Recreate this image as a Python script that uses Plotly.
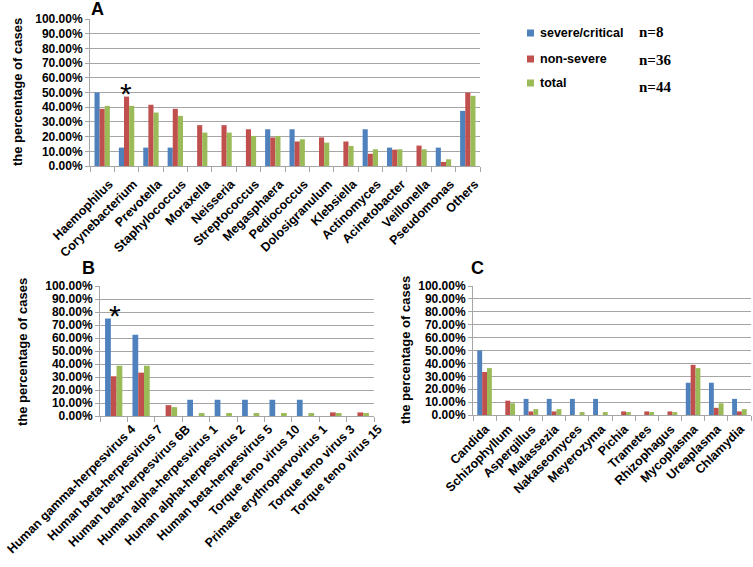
import plotly.graph_objects as go

W, H = 753, 567

# ---------- data ----------
series_names = ["severe/critical", "non-severe", "total"]
series_n = ["n=8", "n=36", "n=44"]
colors = ["#4F81BD", "#C0504D", "#9BBB59"]

cats_a = ["Haemophilus", "Corynebacterium", "Prevotella", "Staphylococcus", "Moraxella",
          "Neisseria", "Streptococcus", "Megasphaera", "Pediococcus", "Dolosigranulum",
          "Klebsiella", "Actinomyces", "Acinetobacter", "Veillonella", "Pseudomonas", "Others"]
severe_a = [50.0, 12.5, 12.5, 12.5, 0, 0, 0, 25.0, 25.0, 0, 0, 25.0, 12.5, 0, 12.5, 37.5]
nonsev_a = [38.89, 47.22, 41.67, 38.89, 27.78, 27.78, 25.0, 19.44, 16.67, 19.44, 16.67, 8.33, 11.11, 13.89, 2.78, 50.0]
total_a = [40.91, 40.91, 36.36, 34.09, 22.73, 22.73, 20.45, 20.45, 18.18, 15.91, 13.64, 11.36, 11.36, 11.36, 4.55, 47.73]

cats_b = ["Human gamma-herpesvirus 4", "Human beta-herpesvirus 7", "Human beta-herpesvirus 6B",
          "Human alpha-herpesvirus 1", "Human alpha-herpesvirus 2", "Human beta-herpesvirus 5",
          "Torque teno virus 10", "Primate erythroparvovirus 1", "Torque teno virus 3",
          "Torque teno virus 15"]
severe_b = [75.0, 62.5, 0, 12.5, 12.5, 12.5, 12.5, 12.5, 0, 0]
nonsev_b = [30.56, 33.33, 8.33, 0, 0, 0, 0, 0, 2.78, 2.78]
total_b = [38.64, 38.64, 6.82, 2.27, 2.27, 2.27, 2.27, 2.27, 2.27, 2.27]

cats_c = ["Candida", "Schizophyllum", "Aspergillus", "Malassezia", "Nakaseomyces", "Meyerozyma",
          "Pichia", "Trametes", "Rhizophagus", "Mycoplasma", "Ureaplasma", "Chlamydia"]
severe_c = [50.0, 0, 12.5, 12.5, 12.5, 12.5, 0, 0, 0, 25.0, 25.0, 12.5]
nonsev_c = [33.33, 11.11, 2.78, 2.78, 0, 0, 2.78, 2.78, 2.78, 38.89, 5.56, 2.78]
total_c = [36.36, 9.09, 4.55, 4.55, 2.27, 2.27, 2.27, 2.27, 2.27, 36.36, 9.09, 4.55]

ytick_vals = [0, 10, 20, 30, 40, 50, 60, 70, 80, 90, 100]
ytick_text = ["0.00%", "10.00%", "20.00%", "30.00%", "40.00%", "50.00%",
              "60.00%", "70.00%", "80.00%", "90.00%", "100.00%"]
ytitle = "the percentage of cases"

# ---------- helpers ----------
def px_x(v):
    return v / W

def px_y(v):
    return 1 - v / H

FONT = "Liberation Sans, Arial, sans-serif"
GRID = "#A6A6A6"

fig = go.Figure()

panels = [
    ("x", "y", cats_a, [severe_a, nonsev_a, total_a]),
    ("x2", "y2", cats_b, [severe_b, nonsev_b, total_b]),
    ("x3", "y3", cats_c, [severe_c, nonsev_c, total_c]),
]
for xa, ya, cats, vals in panels:
    for name, col, v in zip(series_names, colors, vals):
        fig.add_trace(go.Bar(x=cats, y=v, name=name, marker=dict(color=col, line=dict(width=0)),
                             xaxis=xa, yaxis=ya, showlegend=False))

def xaxis(domain, anchor, shift, standoff):
    return dict(domain=domain, anchor=anchor, type="category", automargin=False,
                showline=True, linecolor=GRID,
                linewidth=1, ticks="outside", tickson="boundaries", ticklen=5, tickcolor=GRID,
                tickangle=-45, showgrid=False, ticklabelshift=shift,
                ticklabelstandoff=standoff,
                tickfont=dict(family=FONT, size=12.5, color="black", weight="bold"))

def yaxis(domain, anchor):
    return dict(domain=domain, anchor=anchor, range=[0, 100], tickmode="array",
                tickvals=ytick_vals, ticktext=ytick_text, automargin=False,
                showline=True, linecolor=GRID, linewidth=1,
                ticks="outside", ticklen=4, tickcolor=GRID, showgrid=True, gridcolor=GRID,
                gridwidth=1, zeroline=False,
                tickfont=dict(family=FONT, size=12, color="black", weight="bold"))

layout = dict(
    template="none",
    width=W, height=H, margin=dict(l=0, r=0, t=0, b=0, pad=0),
    paper_bgcolor="white", plot_bgcolor="white",
    barmode="group", bargap=0.37, bargroupgap=0,
    xaxis=xaxis([px_x(90), px_x(480)], "y", 7, 5),
    yaxis=yaxis([px_y(166), px_y(19)], "x"),
    xaxis2=xaxis([px_x(100), px_x(374)], "y2", 18, 0),
    yaxis2=yaxis([px_y(416), px_y(286)], "x2"),
    xaxis3=xaxis([px_x(473), px_x(751)], "y3", 1, 1),
    yaxis3=yaxis([px_y(415), px_y(286)], "x3"),
)
fig.update_layout(**layout)

ann = []
# panel letters
for letter, x, y in [("A", 97, 9), ("B", 88, 268), ("C", 477, 268)]:
    ann.append(dict(text=letter, x=px_x(x), y=px_y(y), xref="paper", yref="paper",
                    showarrow=False, xanchor="center", yanchor="middle",
                    font=dict(family=FONT, size=18, color="black", weight="bold")))
# y titles
for x, yc in [(17, 92), (22, 352), (405, 350)]:
    ann.append(dict(text=ytitle, x=px_x(x), y=px_y(yc), xref="paper", yref="paper",
                    showarrow=False, textangle=-90, xanchor="center", yanchor="middle",
                    font=dict(family=FONT, size=13, color="black", weight="bold")))
# asterisks
ann.append(dict(text="*", x=cats_a[1], y=50, xref="x", yref="y", showarrow=False,
                xanchor="center", yanchor="bottom", xshift=-1, yshift=-19,
                font=dict(family=FONT, size=30, color="black")))
ann.append(dict(text="*", x=cats_b[0], y=78, xref="x2", yref="y2", showarrow=False,
                xanchor="center", yanchor="bottom", xshift=1, yshift=-19,
                font=dict(family=FONT, size=30, color="black")))

# legend
shapes = []
legend_rows = [33, 59, 83]
n_rows = [32, 60, 87]
for name, col, n, yr, yn in zip(series_names, colors, series_n, legend_rows, n_rows):
    shapes.append(dict(type="rect", xref="paper", yref="paper",
                       x0=px_x(527), x1=px_x(534), y0=px_y(yr + 3.5), y1=px_y(yr - 3.5),
                       fillcolor=col, line=dict(width=0)))
    ann.append(dict(text=name, x=px_x(538), y=px_y(yr), xref="paper", yref="paper",
                    showarrow=False, xanchor="left", yanchor="middle",
                    font=dict(family=FONT, size=12.5, color="black", weight="bold")))
    ann.append(dict(text=n, x=px_x(637), y=px_y(yn), xref="paper", yref="paper",
                    showarrow=False, xanchor="left", yanchor="middle",
                    font=dict(family="Liberation Serif, Times New Roman, serif", size=15,
                              color="black", weight="bold")))

fig.update_layout(annotations=ann, shapes=shapes)
fig.write_html("out.html", config={"displayModeBar": False},
               post_script="document.body.style.margin='0px';")
